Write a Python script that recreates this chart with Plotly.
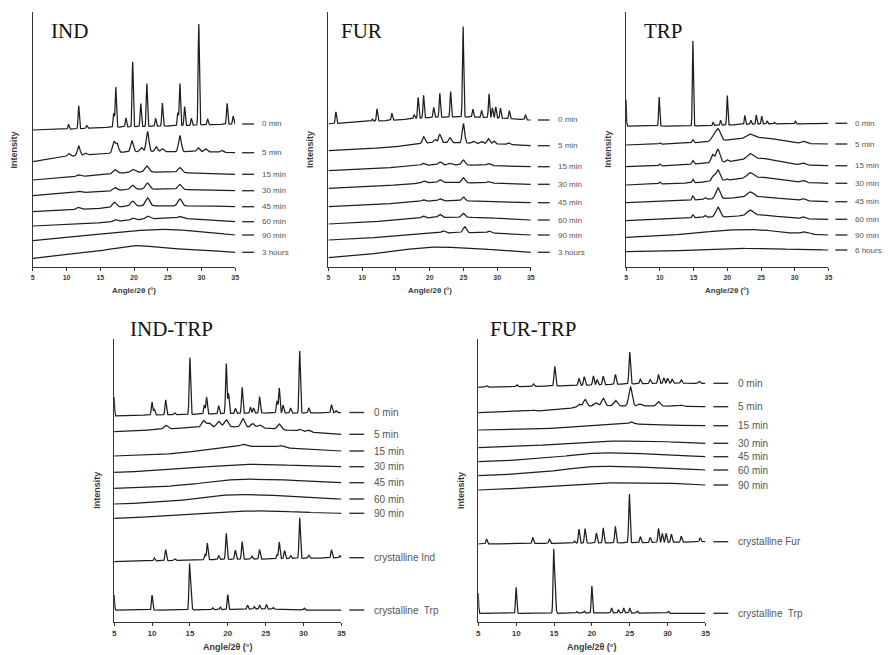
import numpy as np
import plotly.graph_objects as go

# ------------------------------------------------------------------ data
# Baseline levels are read at these angles (arbitrary intensity units,
# traces already stacked with their vertical offsets).
KNOT_ANGLES = [5, 10, 15, 20, 25, 30, 35]
TICK_VALUES = [5, 10, 15, 20, 25, 30, 35]

# ---------------- IND
IND_LABELS = ["0 min", "5 min", "15 min", "30 min", "45 min", "60 min", "90 min", "3 hours"]
IND_BASELINES = [
    [137, 137.7, 139.3, 140.3, 141, 142, 143],
    [105.3, 110.3, 113, 115.3, 115.3, 115.3, 114.3],
    [87, 89.3, 92, 94.7, 94.7, 93.7, 92.7],
    [71.3, 73.7, 75.3, 77.7, 77.7, 77, 76.3],
    [55.3, 57, 58.7, 61, 61, 61, 60.3],
    [41, 42.7, 44.3, 47, 48.7, 47.7, 45.3],
    [26.3, 29.7, 33, 36.3, 37.7, 35.3, 32],
    [8.7, 12, 16.3, 21.3, 18.7, 17, 14.7],
]
IND_PEAK_WIDTHS = [0.09, 0.2, 0.3, 0.3, 0.3, 0.3, 0.3, 0.3]
IND_PEAKS = [
    [(10.3, 5), (11.8, 23), (13.0, 3), (17.0, 14), (17.3, 40), (18.8, 9), (19.8, 65),
     (21.0, 23), (21.9, 43), (23.2, 8), (24.2, 23), (26.5, 13), (26.8, 42), (27.5, 19),
     (28.5, 7), (29.6, 101), (30.9, 6), (33.8, 21), (34.7, 8)],
    [(10.3, 3), (11.8, 9.5), (12.8, 2), (17.0, 11), (17.5, 9), (19.7, 11), (21.1, 4),
     (22.0, 20), (23.3, 5), (24.2, 3), (26.8, 16), (29.5, 4), (30.6, 3), (33.0, 2)],
    [(11.7, 2), (17.2, 4), (19.8, 3), (21.9, 6), (26.8, 5)],
    [(11.8, 1.5), (17.2, 3), (19.8, 4), (22.0, 6), (26.8, 5)],
    [(11.8, 2), (17.1, 5), (19.8, 5), (22.0, 8), (26.8, 7)],
    [(17.2, 2), (19.8, 2), (22.0, 3), (26.8, 2)],
    [],
    [],
]

# ---------------- FUR
FUR_LABELS = ["0 min", "5 min", "15 min", "30 min", "45 min", "60 min", "90 min", "3 hours"]
FUR_BASELINES = [
    [143, 145.3, 147, 149.5, 150, 149, 147],
    [116.3, 118, 120.3, 124.3, 124, 123, 121.3],
    [96.3, 97.7, 99.7, 102, 102, 101.3, 100.3],
    [78.7, 80.3, 82, 84.3, 84.3, 83.7, 82.7],
    [60.3, 61.7, 63.7, 66, 66, 65.3, 64.3],
    [43, 44.3, 47, 49.3, 49.7, 48.7, 47],
    [27, 28.7, 31, 33.7, 34.3, 33.7, 32],
    [9.3, 12, 16.3, 19.7, 19.3, 17, 14.7],
]
FUR_PEAK_WIDTHS = [0.09, 0.18, 0.25, 0.25, 0.25, 0.25, 0.25, 0.25]
FUR_PEAKS = [
    [(6.1, 11.7), (11.5, 2), (12.2, 12), (14.4, 7), (17.7, 4), (18.3, 21), (19.1, 22.5),
     (20.6, 10), (21.5, 24), (23.1, 25.5), (24.95, 91), (26.4, 8), (27.7, 7), (28.8, 24),
     (29.3, 10), (29.8, 11), (30.5, 10), (31.8, 8), (34.2, 5)],
    [(19.1, 6.5), (20.8, 3), (21.5, 8), (23.0, 5), (25.0, 19.5), (26.5, 2), (27.7, 2),
     (28.7, 5), (29.5, 3), (31.7, 2)],
    [(19.0, 2), (21.5, 3), (23.0, 1.5), (25.0, 5), (28.7, 2)],
    [(19.1, 2), (21.5, 3), (25.0, 5), (28.7, 1.5)],
    [(19.0, 1.5), (21.5, 2), (25.0, 4)],
    [(19.0, 2), (21.5, 3), (25.0, 4)],
    [(22.0, 2), (25.2, 6), (28.8, 2)],
    [],
]

# ---------------- TRP
TRP_LABELS = ["0 min", "5 min", "15 min", "30 min", "45 min", "60 min", "90 min", "6 hours"]
TRP_BASELINES = [
    [141, 141, 141, 142, 143, 143, 143.7],
    [122, 122.7, 124.3, 127, 129.5, 124.3, 123],
    [100.3, 101, 103, 105.3, 108.7, 102.7, 101.3],
    [82, 83, 84.3, 87, 89.7, 85.3, 83.7],
    [64.3, 65.3, 67, 68.7, 70.3, 67, 65.3],
    [46.3, 47.7, 49.3, 50.3, 52, 48.7, 47.7],
    [29.7, 31, 33.7, 37, 37, 33.7, 32],
    [15.3, 16, 17, 18.7, 18.3, 17.7, 17],
]
TRP_PEAK_WIDTHS = [0.08, 0.3, 0.3, 0.3, 0.3, 0.3, 0.3, 0.3]
TRP_PEAKS = [
    [(5.0, 26, 0.05), (9.9, 29), (14.9, 85), (17.9, 3), (19.0, 5), (20.0, 29.5), (22.6, 9),
     (23.5, 4), (24.3, 9), (25.1, 8), (25.9, 3), (27.0, 1.5), (30.1, 3)],
    [(10.0, 1.5, 0.12), (14.9, 3, 0.12), (17.9, 4), (18.6, 12, 0.35), (23.4, 3.5, 0.5), (31.3, 2)],
    [(10.0, 2, 0.12), (14.9, 3.5, 0.12), (17.8, 8, 0.22), (18.6, 13, 0.3), (20.0, 2, 0.15),
     (23.4, 5, 0.45), (31.2, 2)],
    [(10.0, 2, 0.12), (14.9, 3.5, 0.12), (17.9, 5, 0.22), (18.6, 11, 0.3), (19.9, 1.5, 0.15),
     (23.4, 5, 0.45), (31.2, 2)],
    [(14.9, 4, 0.12), (16.7, 2, 0.15), (18.6, 11, 0.32), (23.4, 5, 0.45), (31.2, 2)],
    [(14.9, 3, 0.12), (16.7, 2, 0.15), (18.6, 10, 0.32), (23.4, 5, 0.45), (31.2, 2)],
    [(31.2, 2), (32.0, 1.5)],
    [],
]

# ---------------- IND-TRP
INDTRP_LABELS = ["0 min", "5 min", "15 min", "30 min", "45 min", "60 min", "90 min",
                 "crystalline Ind", "crystalline  Trp"]
INDTRP_BASELINES = [
    [206, 207, 207.5, 208.5, 209, 209, 209.5],
    [190.3, 192, 194.3, 195.3, 193.7, 190.3, 187.7],
    [166, 167, 170.3, 175.3, 175.3, 173, 171],
    [149.7, 151, 153.7, 157, 157.7, 156.3, 155.3],
    [133.7, 134.7, 137.7, 142, 142.7, 141, 139.3],
    [118, 119.3, 122.7, 127, 127, 124.7, 123],
    [103.7, 105.3, 107.7, 110.3, 111, 109.7, 108.7],
    [60.3, 61, 62, 62.7, 63, 63.7, 64.3],
    [12, 12, 12, 12.5, 13, 12, 12],
]
INDTRP_PEAK_WIDTHS = [0.09, 0.25, 0.3, 0.3, 0.3, 0.3, 0.3, 0.09, 0.08]
INDTRP_PEAKS = [
    [(5.0, 19, 0.05), (10.0, 13), (10.3, 6), (11.8, 15), (13.0, 2), (15.0, 57), (16.9, 9),
     (17.2, 17), (18.8, 8), (19.8, 50), (20.1, 20), (21.0, 5), (21.9, 26), (23.0, 6),
     (23.4, 5), (24.2, 16.5), (26.5, 12), (26.8, 25), (27.3, 8), (28.3, 5), (29.5, 62),
     (30.7, 5), (33.7, 8), (34.3, 2)],
    [(11.8, 4), (16.8, 6.5), (17.5, 4), (18.8, 5.5), (19.8, 7), (22.0, 8.5), (23.3, 4),
     (24.2, 3), (26.8, 5.5), (29.5, 2), (30.6, 2)],
    [(22.0, 2), (27.0, 2)],
    [],
    [],
    [],
    [],
    [(10.3, 3), (11.8, 11), (13.0, 1.5), (17.0, 5), (17.3, 16.5), (18.8, 4), (19.8, 26),
     (21.0, 9), (21.9, 17.5), (23.2, 3), (24.2, 9.5), (26.5, 4), (26.8, 16.7), (27.5, 8),
     (28.3, 3), (29.5, 40.5), (30.7, 3), (33.7, 8), (34.8, 2)],
    [(5.0, 15, 0.05), (10.0, 15), (14.95, 45), (15.15, 30), (18.0, 2), (19.0, 2.5),
     (20.0, 15), (22.6, 4), (23.5, 2.5), (24.2, 4), (25.1, 4.5), (26.0, 1.5), (30.1, 2)],
]

# ---------------- FUR-TRP
FURTRP_LABELS = ["0 min", "5 min", "15 min", "30 min", "45 min", "60 min", "90 min",
                 "crystalline Fur", "crystalline  Trp"]
FURTRP_BASELINES = [
    [234.7, 235.3, 236, 237, 238, 238.7, 238.7],
    [209.3, 210.3, 212, 216, 216, 216, 215.3],
    [192, 192.7, 193.7, 196, 198, 197, 196.3],
    [174.3, 175.3, 177.7, 180.3, 181, 180.3, 178.7],
    [160.3, 162, 164.7, 168.7, 168.7, 167, 165.3],
    [146.3, 148, 151.3, 155.3, 155.3, 153.7, 152],
    [132, 133.7, 136, 138.7, 139.3, 138.7, 137],
    [78, 78.3, 78.7, 79, 79.3, 79.7, 80.3],
    [8.7, 8.7, 8.7, 9, 9, 8.7, 8.7],
]
FURTRP_PEAK_WIDTHS = [0.1, 0.22, 0.3, 0.3, 0.3, 0.3, 0.3, 0.09, 0.08]
FURTRP_PEAKS = [
    [(6.1, 1.5), (10.1, 2), (12.3, 2.5), (15.1, 19.5), (18.3, 7), (19.0, 8.5), (20.2, 9),
     (20.7, 5), (21.5, 8.5), (23.1, 10), (25.0, 32), (26.4, 4.5), (27.7, 4), (28.8, 9),
     (29.5, 5.5), (30.0, 5), (30.6, 4), (31.8, 3.5), (34.2, 2)],
    [(12.3, 1), (18.3, 3), (19.1, 7), (20.5, 3), (21.5, 7.5), (23.1, 5.5), (25.1, 19),
     (26.3, 2), (28.8, 4.5), (31.8, 1)],
    [(25.2, 2)],
    [],
    [],
    [],
    [],
    [(6.1, 5), (12.2, 6), (14.4, 4.5), (17.7, 2), (18.3, 14), (19.1, 14.5), (20.6, 10),
     (21.5, 15), (23.1, 16.5), (24.95, 49), (26.4, 6), (27.7, 5), (28.8, 14), (29.3, 9),
     (29.8, 9), (30.5, 8), (31.8, 6), (34.3, 4)],
    [(5.0, 20, 0.05), (10.0, 26), (14.95, 62.7), (15.15, 40), (18.0, 1.5), (19.0, 2),
     (20.0, 27), (22.6, 5), (23.5, 3), (24.2, 5), (25.0, 5), (26.0, 2), (30.1, 2)],
]

# ------------------------------------------------------------------ layout spec
# The page body adds an 8 px margin, so the figure is drawn 8 px smaller and all
# reference pixel positions are shifted by that amount.
PAGE_MARGIN = 8
W, H = 894 - PAGE_MARGIN, 655 - PAGE_MARGIN

PANELS = [
    dict(name="IND", labels=IND_LABELS, base=IND_BASELINES, peaks=IND_PEAKS,
         widths=IND_PEAK_WIDTHS, box=(31, 12, 235, 267), title_xy=(47, 31),
         row="top"),
    dict(name="FUR", labels=FUR_LABELS, base=FUR_BASELINES, peaks=FUR_PEAKS,
         widths=FUR_PEAK_WIDTHS, box=(329, 12, 533, 267), title_xy=(340, 31),
         row="top"),
    dict(name="TRP", labels=TRP_LABELS, base=TRP_BASELINES, peaks=TRP_PEAKS,
         widths=TRP_PEAK_WIDTHS, box=(629, 12, 833, 267), title_xy=(645, 31),
         row="top"),
    dict(name="IND-TRP", labels=INDTRP_LABELS, base=INDTRP_BASELINES, peaks=INDTRP_PEAKS,
         widths=INDTRP_PEAK_WIDTHS, box=(113, 339, 342, 622), title_xy=(127, 329),
         row="bottom"),
    dict(name="FUR-TRP", labels=FURTRP_LABELS, base=FURTRP_BASELINES, peaks=FURTRP_PEAKS,
         widths=FURTRP_PEAK_WIDTHS, box=(480, 339, 709, 622), title_xy=(490, 329),
         row="bottom"),
]
ROW_STYLE = {
    "top": dict(tick_size=7, label_size=8, dash=(7, 19), text_dx=25, xtitle_y=290,
                xtitle_size=8),
    "bottom": dict(tick_size=8, label_size=10, dash=(8, 23), text_dx=31, xtitle_y=647,
                   xtitle_size=9),
}


def px_x(v):
    return (v - PAGE_MARGIN) / W


def px_y(v):
    return 1 - (v - PAGE_MARGIN) / H


GRID = np.linspace(5, 35, 1501)


def smooth_baseline(xk, yk, x):
    xk = np.asarray(xk, float)
    yk = np.asarray(yk, float)
    m = np.gradient(yk, xk)
    idx = np.clip(np.searchsorted(xk, x) - 1, 0, len(xk) - 2)
    h = xk[idx + 1] - xk[idx]
    t = (x - xk[idx]) / h
    h00 = 2 * t**3 - 3 * t**2 + 1
    h10 = t**3 - 2 * t**2 + t
    h01 = -2 * t**3 + 3 * t**2
    h11 = t**3 - t**2
    return h00 * yk[idx] + h10 * h * m[idx] + h01 * yk[idx + 1] + h11 * h * m[idx + 1]


def pattern(knots, peaks, width):
    y = smooth_baseline(KNOT_ANGLES, knots, GRID)
    for pk in peaks:
        pos, hgt = pk[0], pk[1]
        w = pk[2] if len(pk) > 2 else width
        y = y + hgt * np.exp(-0.5 * ((GRID - pos) / w) ** 2)
    return y


fig = go.Figure()
annotations = []
shapes = []
LINE_COLOR = "#1e1e1e"
TEXT_COLOR = "#3a3a3a"

for i, p in enumerate(PANELS, start=1):
    sfx = "" if i == 1 else str(i)
    xa, ya = "x" + sfx, "y" + sfx
    left, top, right, bottom = p["box"]
    span = bottom - top
    width_px = right - left
    st = ROW_STYLE[p["row"]]

    for knots, pk, w in zip(p["base"], p["peaks"], p["widths"]):
        fig.add_trace(go.Scatter(
            x=GRID, y=pattern(knots, pk, w), mode="lines", xaxis=xa, yaxis=ya,
            line=dict(color=LINE_COLOR, width=1.25), hoverinfo="skip", showlegend=False))

    fig.layout["xaxis" + sfx] = dict(
        domain=[px_x(left), px_x(right)], anchor=ya, range=[5, 35],
        tickvals=TICK_VALUES, ticks="outside", ticklen=3, tickwidth=1,
        tickcolor="#333", showline=True, linecolor="#333", linewidth=1.2,
        showgrid=False, zeroline=False,
        tickfont=dict(family="Liberation Sans", size=st["tick_size"], color=TEXT_COLOR,
                      weight="bold"))
    fig.layout["yaxis" + sfx] = dict(
        domain=[px_y(bottom), px_y(top)], anchor=xa, range=[0, span],
        showline=True, linecolor="#333", linewidth=1.2, showgrid=False,
        zeroline=False, showticklabels=False, ticks="")

    # panel title
    tx, ty = p["title_xy"]
    annotations.append(dict(
        text=p["name"], xref="paper", yref="paper", x=px_x(tx), y=px_y(ty),
        xanchor="left", yanchor="middle", showarrow=False,
        font=dict(family="Liberation Serif", size=21, color="#111")))
    # y title
    annotations.append(dict(
        text="<b>Intensity</b>", xref="paper", yref="paper", x=px_x(left - 18),
        y=px_y((top + bottom) / 2 + 10), textangle=-90, showarrow=False,
        xanchor="center", yanchor="middle",
        font=dict(family="Liberation Sans", size=9, color=TEXT_COLOR)))
    # x title
    annotations.append(dict(
        text="<b>Angle/2θ (°)</b>", xref="paper", yref="paper",
        x=px_x((left + right) / 2), y=px_y(st["xtitle_y"]), showarrow=False,
        xanchor="center", yanchor="middle",
        font=dict(family="Liberation Sans", size=st["xtitle_size"], color=TEXT_COLOR)))
    # trace labels with dashes
    d0, d1 = st["dash"]
    for lab, knots in zip(p["labels"], p["base"]):
        yv = knots[-1]
        shapes.append(dict(
            type="line", xref=xa + " domain", yref=ya + " domain",
            x0=1 + d0 / width_px, x1=1 + d1 / width_px, y0=yv / span, y1=yv / span,
            line=dict(color="#333", width=1.4)))
        annotations.append(dict(
            text=lab, xref=xa + " domain", yref=ya, x=1 + st["text_dx"] / width_px,
            y=yv, xanchor="left", yanchor="middle", showarrow=False,
            font=dict(family="Liberation Sans", size=st["label_size"], color="#555")))

fig.update_layout(
    width=W, height=H, margin=dict(l=0, r=0, t=0, b=0),
    paper_bgcolor="white", plot_bgcolor="white",
    annotations=annotations, shapes=shapes, showlegend=False)

fig.write_html("out.html")
